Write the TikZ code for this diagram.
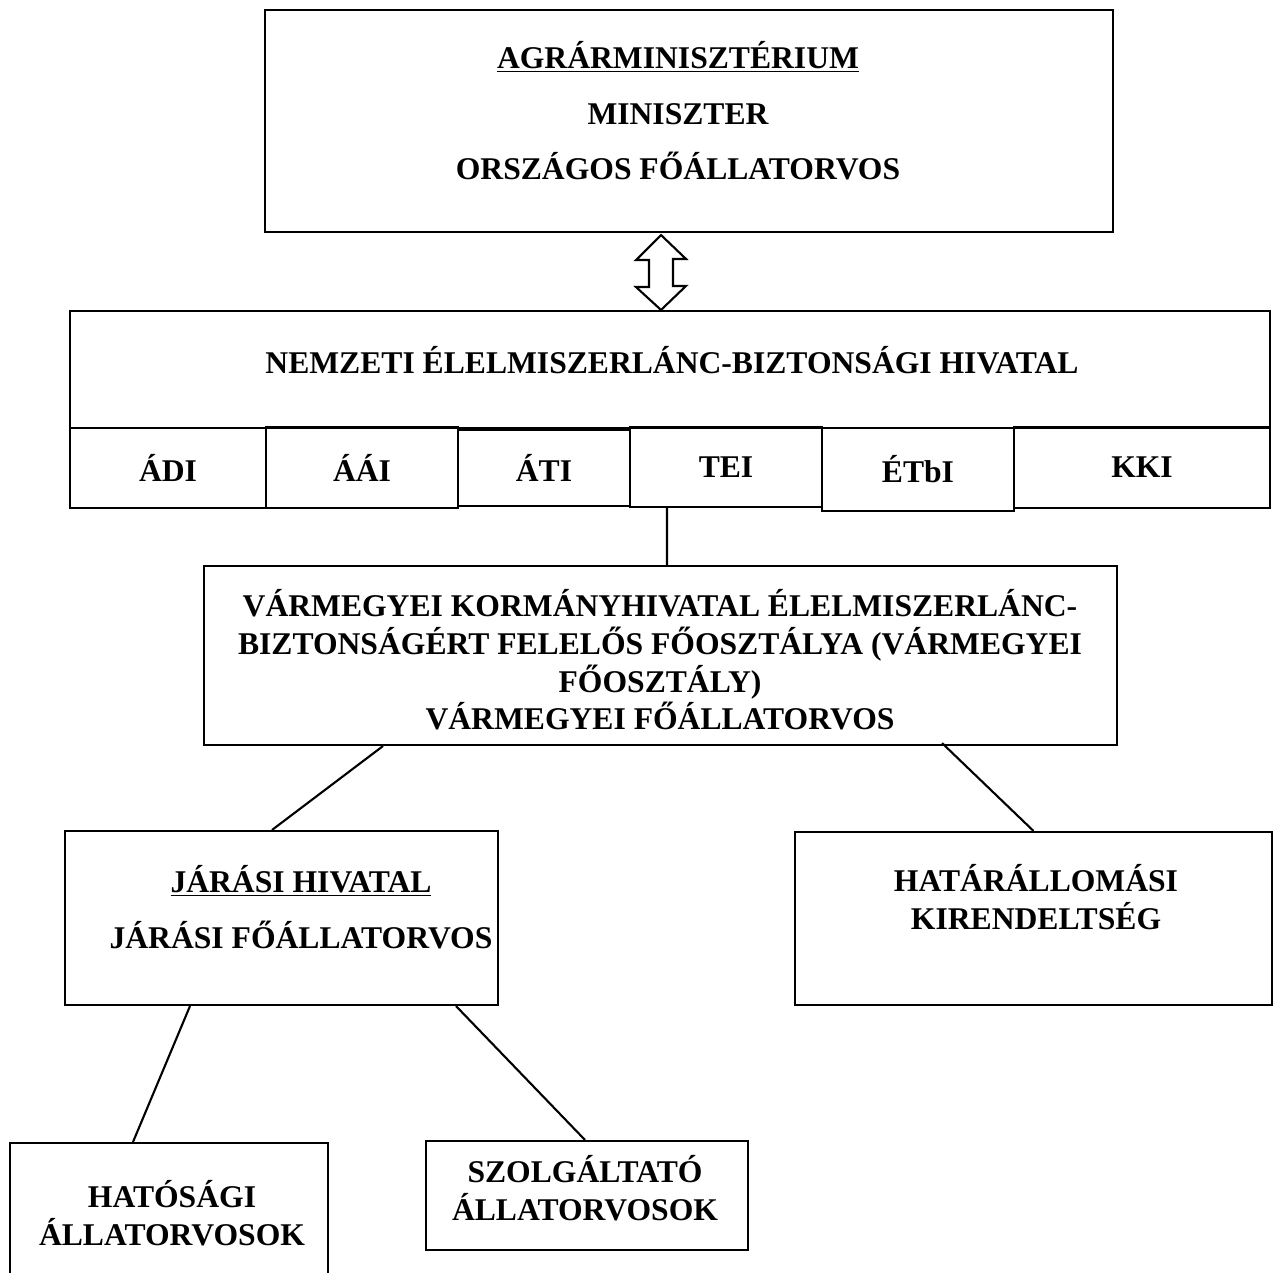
\documentclass[tikz,border=0pt]{standalone}
\usepackage{fontspec}
\setmainfont{Liberation Serif}
\usepackage{tikz}
\usetikzlibrary{positioning,calc}

\begin{document}
\begin{tikzpicture}[
    x=0.02cm, y=-0.02cm,
    every node/.style={align=center},
    box/.style={draw, line width=1.2pt, inner sep=0pt},
    label-text/.style={font=\fontsize{18}{21.5}\selectfont\bfseries},
    link/.style={line width=1.2pt}
]
    \useasboundingbox (0,0) rectangle (1277,1273);

    % Ministry
    \node[box, minimum width=16.96cm, minimum height=4.44cm] (ministry) at (689,121) {};
    \node[label-text] (ministry-text) at (678,111) {
        \underline{AGRÁRMINISZTÉRIUM}\\[10pt]
        MINISZTER\\[10pt]
        ORSZÁGOS FŐÁLLATORVOS
    };

    % Nebih with its directorates
    \node[box, minimum width=24cm, minimum height=2.34cm] (nebih) at (670,369.5) {};
    \node[label-text] (nebih-text) at (672,360) {NEMZETI ÉLELMISZERLÁNC-BIZTONSÁGI HIVATAL};

    \node[box, label-text, minimum width=3.92cm, minimum height=1.6cm] (adi) at (168,468) {ÁDI};
    \node[box, label-text, minimum width=3.84cm, minimum height=1.62cm] (aai) at (362,467.5) {ÁÁI};
    \node[box, label-text, minimum width=3.44cm, minimum height=1.52cm] (ati) at (544,468) {ÁTI};
    \node[box, label-text, minimum width=3.84cm, minimum height=1.6cm] (tei) at (726,467) {TEI};
    \node[box, label-text, minimum width=3.84cm, minimum height=1.66cm] (etbi) at (918,469.5) {ÉTbI};
    \node[box, label-text, minimum width=5.12cm, minimum height=1.62cm] (kki) at (1142,467.5) {KKI};

    % Double arrow
    \draw[line width=1.2pt, fill=white]
        ($(ministry.south)+(-28,2)$) -- ++(-25,25) -- ++(13,0) -- ++(0,27)
        -- ++(-13,0) -- ($(nebih.north)+(-9,0)$) -- ++(25,-24) -- ++(-13,0)
        -- ++(0,-27) -- ++(13,0) -- cycle;

    % County office
    \node[box, minimum width=18.26cm, minimum height=3.58cm] (county) at (660.5,655.5) {};
    \node[label-text] (county-text) at (660,660) {
        VÁRMEGYEI KORMÁNYHIVATAL ÉLELMISZERLÁNC-\\
        BIZTONSÁGÉRT FELELŐS FŐOSZTÁLYA (VÁRMEGYEI\\
        FŐOSZTÁLY)\\
        VÁRMEGYEI FŐÁLLATORVOS
    };

    % District office and border post
    \node[box, minimum width=8.66cm, minimum height=3.48cm] (district) at (281.5,918) {};
    \node[label-text] (district-text) at (301,907) {
        \underline{JÁRÁSI HIVATAL}\\[10pt]
        JÁRÁSI FŐÁLLATORVOS
    };
    \node[box, minimum width=9.54cm, minimum height=3.46cm] (border) at (1033.5,918.5) {};
    \node[label-text] (border-text) at (1036,897) {
        HATÁRÁLLOMÁSI\\
        KIRENDELTSÉG
    };

    % Veterinarians
    \node[box, minimum width=6.36cm, minimum height=3.14cm] (official) at (169,1221.5) {};
    \node[label-text] (official-text) at (172,1213) {
        HATÓSÁGI\\
        ÁLLATORVOSOK
    };
    \node[box, minimum width=6.44cm, minimum height=2.18cm] (private) at (587,1195.5) {};
    \node[label-text] (private-text) at (585,1188) {
        SZOLGÁLTATÓ\\
        ÁLLATORVOSOK
    };

    % Links
    \draw[link] ($(tei.south)+(-59,0)$) -- ($(county.north)+(6.5,0)$);
    \draw[link] ($(county.south)+(-277.5,0)$) -- ($(district.north)+(-9.5,0)$);
    \draw[link] ($(county.south)+(281.5,-3)$) -- (border.north);
    \draw[link] ($(district.south)+(-91.5,0)$) -- ($(official.north)+(-36,0)$);
    \draw[link] ($(district.south)+(174.5,0)$) -- ($(private.north)+(-2,0)$);
\end{tikzpicture}
\end{document}
